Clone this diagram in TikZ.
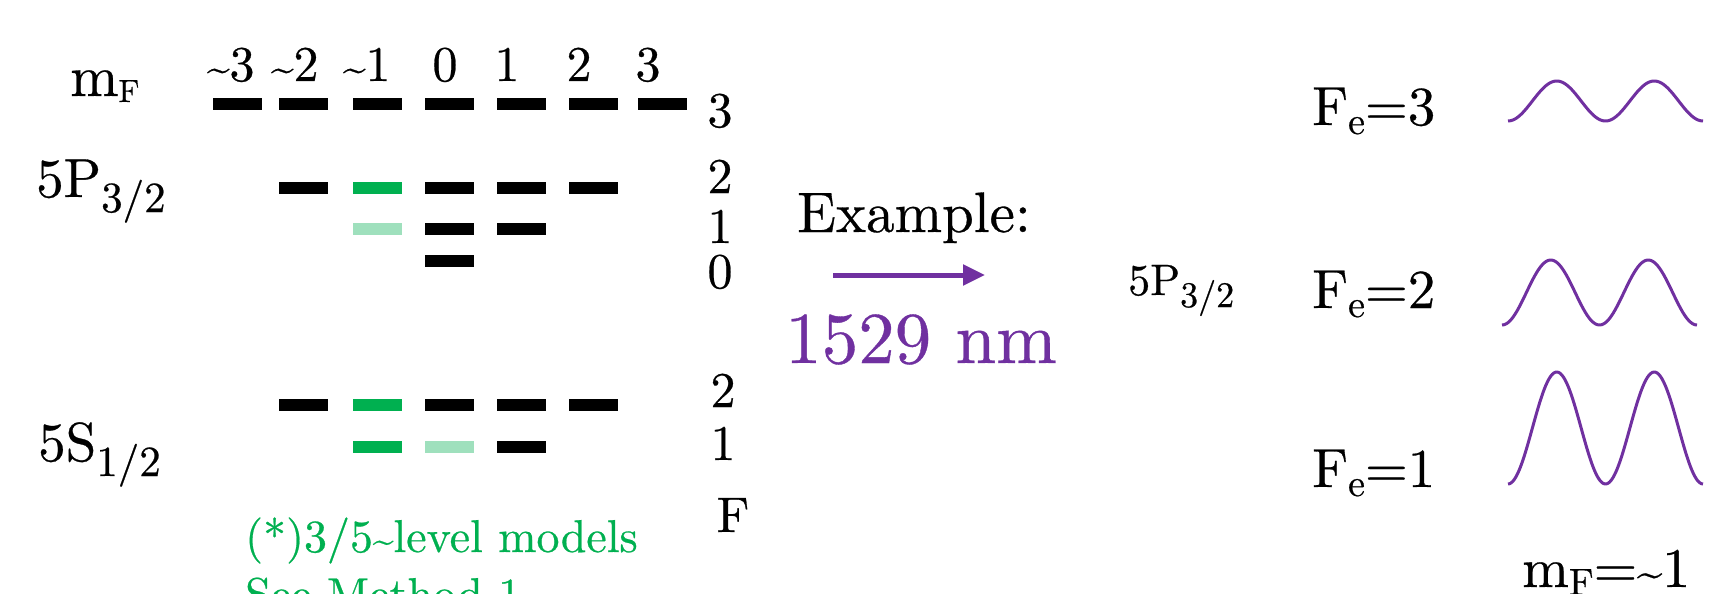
\documentclass[tikz,border=0pt]{standalone}
\usepackage{fontspec}
\setmainfont{lmroman10-regular.otf}[FakeBold=0.5]
\usepackage{graphicx}
\usetikzlibrary{arrows.meta}
\definecolor{dgreen}{HTML}{00B050}
\definecolor{pgreen}{HTML}{9FE0BD}
\definecolor{vio}{HTML}{7030A0}
\newcommand{\fs}[1]{\fontsize{#1}{#1}\selectfont}
\newcommand{\tld}{\scalebox{0.8}{\textasciitilde}}
\begin{document}
\begin{tikzpicture}[x=1pt,y=-1pt,
  lvl/.style={rectangle,minimum width=49pt,minimum height=12pt,inner sep=0pt,fill=black},
  lvlg/.style={lvl,fill=dgreen},
  lvlp/.style={lvl,fill=pgreen},
  txt/.style={inner sep=0pt,anchor=base},
  txtw/.style={inner sep=0pt,anchor=base west},
  wave/.style={vio,line width=3pt},
  arr/.style={vio,line width=5pt,-{Triangle[length=22pt,width=20pt]}}]
\clip (0,0) rectangle (1718,594);
\fill[white] (0,0) rectangle (1718,594);

% left labels
\node[txtw] (mflab) at (70,96) {\fs{58}m\raisebox{-6pt}{\fs{32}F}};
\node[txtw] (p32) at (36,197) {\fs{55}5P\raisebox{-15pt}{\fs{43}3/2}};
\node[txtw] (s12) at (38,461) {\fs{55}5S\raisebox{-15pt}{\fs{43}1/2}};

% mF values
\node[txt] (mfm3) at (242,81) {\fs{50}\llap{\tld}3};
\node[txt] (mfm2) at (306,81) {\fs{50}\llap{\tld}2};
\node[txt] (mfm1) at (378,81) {\fs{50}\llap{\tld}1};
\node[txt] (mf0) at (445,81) {\fs{50}0};
\node[txt] (mf1) at (507,81) {\fs{50}1};
\node[txt] (mf2) at (579,81) {\fs{50}2};
\node[txt] (mf3) at (648,81) {\fs{50}3};

% 5P3/2 F=3
\node[lvl] (pa1) at (237,104) {};
\node[lvl] (pa2) at (303,104) {};
\node[lvl] (pa3) at (377,104) {};
\node[lvl] (pa4) at (449,104) {};
\node[lvl] (pa5) at (521,104) {};
\node[lvl] (pa6) at (593,104) {};
\node[lvl] (pa7) at (662,104) {};
% F=2
\node[lvl] (pb2) at (303,188) {};
\node[lvlg] (pb3) at (377,188) {};
\node[lvl] (pb4) at (449,188) {};
\node[lvl] (pb5) at (521,188) {};
\node[lvl] (pb6) at (593,188) {};
% F=1
\node[lvlp] (pc3) at (377,229) {};
\node[lvl] (pc4) at (449,229) {};
\node[lvl] (pc5) at (521,229) {};
% F=0
\node[lvl] (pd4) at (449,261) {};

% 5S1/2 F=2
\node[lvl] (sa2) at (303,405) {};
\node[lvlg] (sa3) at (377,405) {};
\node[lvl] (sa4) at (449,405) {};
\node[lvl] (sa5) at (521,405) {};
\node[lvl] (sa6) at (593,405) {};
% F=1
\node[lvlg] (sb3) at (377,447) {};
\node[lvlp] (sb4) at (449,447) {};
\node[lvl] (sb5) at (521,447) {};

% F labels
\node[txt] (fp3) at (720,127) {\fs{50}3};
\node[txt] (fp2) at (720,193) {\fs{50}2};
\node[txt] (fp1) at (720,243) {\fs{50}1};
\node[txt] (fp0) at (720,288) {\fs{50}0};
\node[txt] (fs2) at (723,407) {\fs{50}2};
\node[txt] (fs1) at (723,460) {\fs{50}1};
\node[txt] (flab) at (733,532) {\fs{50}F};

% green note
\node[txtw,text=dgreen] (note1) at (245,552) {\fs{46}(*)3/5\tld level models};
\node[txtw,text=dgreen] (note2) at (245,610) {\fs{46}See Method 1};

% middle
\node[txtw] (ex) at (797,232) {\fs{57}Example:};
\coordinate (arS) at (833,275);
\coordinate (arE) at (985,275);
\draw[arr] (arS) -- (arE);
\node[txtw,text=vio] (wl) at (785,363) {\fs{73}1529 nm};
\node[txtw] (p32b) at (1128,295) {\fs{44}5P\raisebox{-12pt}{\fs{36}3/2}};

% right
\node[txtw] (fe3) at (1312,125) {\fs{55}F\raisebox{-9pt}{\fs{38}e}=3};
\node[txtw] (fe2) at (1312,308) {\fs{55}F\raisebox{-9pt}{\fs{38}e}=2};
\node[txtw] (fe1) at (1312,487) {\fs{55}F\raisebox{-9pt}{\fs{38}e}=1};
\node[txtw] (mfr) at (1522,587) {\fs{56}m\raisebox{-8pt}{\fs{38}F}=\tld 1};

\draw[wave] plot[domain=0:195,samples=120,smooth] ({1508+\x},{101+20*cos(3.6923*\x)});
\draw[wave] plot[domain=0:195,samples=120,smooth] ({1502+\x},{292.5+32.5*cos(3.6923*\x)});
\draw[wave] plot[domain=0:195,samples=120,smooth] ({1508+\x},{428+56*cos(3.6923*\x)});
\end{tikzpicture}
\end{document}
